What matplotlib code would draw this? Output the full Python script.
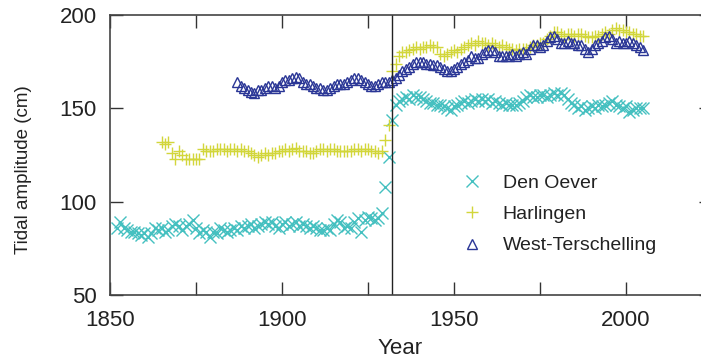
import numpy as np
import matplotlib
matplotlib.use("Agg")
import matplotlib.pyplot as plt
from matplotlib.ticker import MultipleLocator, FixedLocator

plt.rcParams['font.family'] = ['Liberation Sans', 'DejaVu Sans']

# Yearly mean tidal amplitude (cm) at three Wadden Sea stations
den_oever_start = 1852
den_oever = [
    86, 89, 86, 85, 84, 84, 83, 82, 83, 81, 83, 86, 85, 86, 84, 85, 87, 88,
    87, 85, 87, 88, 90, 86, 83, 85, 84, 81, 84, 83, 86, 85, 84, 85, 86, 85,
    87, 86, 87, 88, 86, 87, 88, 89, 88, 89, 87, 86, 88, 89, 87, 88, 89, 87,
    88, 87, 86, 87, 86, 85, 85, 86, 85, 88, 90, 89, 86, 87, 86, 89, 91, 84,
    90, 92, 91, 90, 91, 94, 108, 124, 144, 152, 154, 155, 156, 155, 157, 156,
    156, 155, 154, 153, 153, 152, 152, 151, 150, 149, 151, 152, 153, 154, 153,
    154, 155, 154, 155, 154, 155, 153, 154, 153, 152, 153, 152, 152, 152, 153,
    154, 156, 157, 156, 156, 157, 157, 156, 157, 158, 157, 158, 157, 155, 153,
    152, 150, 151, 149, 150, 151, 150, 152, 151, 152, 153, 154, 152, 151, 150,
    151, 148, 149, 150, 150, 150,
]

harlingen_start = 1865
harlingen = [
    132, 131, 132, 126, 123, 127, 125, 123, 123, 123, 123, 123, 128, 127, 127,
    127, 128, 128, 128, 127, 128, 128, 127, 128, 127, 127, 126, 125, 124, 125,
    126, 125, 126, 126, 127, 127, 128, 127, 128, 129, 127, 127, 127, 126, 126,
    127, 128, 128, 127, 128, 128, 127, 127, 127, 127, 127, 128, 128, 127, 128,
    128, 127, 127, 126, 127, 133, 141, 170, 174, 178, 180, 180, 181, 182, 183,
    182, 183, 183, 184, 183, 183, 179, 178, 179, 180, 181, 180, 182, 183, 184,
    185, 184, 186, 185, 185, 184, 185, 184, 183, 184, 183, 182, 182, 181, 182,
    182, 182, 183, 184, 184, 185, 185, 187, 189, 191, 191, 190, 189, 190, 190,
    189, 190, 190, 189, 188, 188, 189, 189, 190, 191, 190, 192, 193, 192, 192,
    191, 191, 190, 190, 189, 189,
]

terschelling_start = 1887
terschelling = [
    164, 162, 161, 160, 159, 158, 160, 160, 161, 162, 162, 161, 162, 164, 165,
    165, 166, 167, 166, 164, 163, 163, 162, 161, 161, 160, 160, 161, 162, 163,
    163, 163, 164, 165, 166, 166, 165, 164, 163, 162, 162, 163, 164, 164, 164,
    165, 166, 168, 170, 171, 172, 174, 175, 175, 175, 174, 174, 173, 173, 172,
    171, 170, 170, 171, 172, 174, 175, 176, 178, 177, 177, 179, 180, 181, 181,
    180, 178, 178, 178, 178, 179, 178, 179, 180, 179, 182, 184, 184, 183, 184,
    186, 188, 189, 187, 185, 185, 186, 185, 185, 184, 184, 182, 180, 182, 184,
    185, 186, 188, 189, 187, 185, 186, 185, 185, 186, 185, 184, 183, 181,
]

closure_year = 1932
x_ticks = [1850, 1900, 1950, 2000]
y_ticks = [50, 100, 150, 200]

series = [
    ("Den Oever", den_oever_start, den_oever, "x", "#45c0c0", 8),
    ("Harlingen", harlingen_start, harlingen, "+", "#d2d63a", 8),
    ("West-Terschelling", terschelling_start, terschelling, "^", "#2a3696", 7.5),
]

fig = plt.figure(figsize=(7.01, 3.60), dpi=100)
ax = fig.add_axes([110 / 701, 1 - 295 / 360, 602 / 701, 280 / 360])

for name, start, values, marker, color, ms in series:
    years = np.arange(start, start + len(values))
    kw = dict(linestyle="none", marker=marker, markersize=ms, color=color,
              label=name, markeredgewidth=1.0)
    if marker == "^":
        kw["markerfacecolor"] = "none"
    ax.plot(years, values, **kw)

ax.axvline(closure_year, color="#222222", linewidth=1.0)

ax.set_xlim(1850, 2025)
ax.set_ylim(50, 200)
ax.xaxis.set_major_locator(FixedLocator(x_ticks))
ax.xaxis.set_minor_locator(MultipleLocator(25))
ax.yaxis.set_major_locator(FixedLocator(y_ticks))
ax.tick_params(axis="both", which="both", direction="in", length=9.4,
               width=1.0, top=True, right=True, colors="#333333",
               labelcolor="#222222", labelsize=16)
ax.tick_params(axis="x", which="both", pad=10.5)
ax.tick_params(axis="y", which="both", pad=9.5)

for spine in ax.spines.values():
    spine.set_color("#444444")
    spine.set_linewidth(1.2)

ax.set_xlabel("Year", fontsize=16, color="#222222")
ax.xaxis.set_label_coords((400 - 110) / 602, (295 - 338) / 280)
ax.set_ylabel("Tidal amplitude (cm)", fontsize=13.5, color="#222222")
ax.yaxis.set_label_coords((32 - 110) / 602, (295 - 170) / 280)

ax.legend(loc="upper left", bbox_to_anchor=(462 / 701, 1 - 174 / 360),
          bbox_transform=fig.transFigure, frameon=False, fontsize=14,
          handlelength=1.0, handletextpad=1.1, labelspacing=0.71,
          borderpad=0, borderaxespad=0, labelcolor="#222222")

fig.savefig("out.png", dpi=100)
